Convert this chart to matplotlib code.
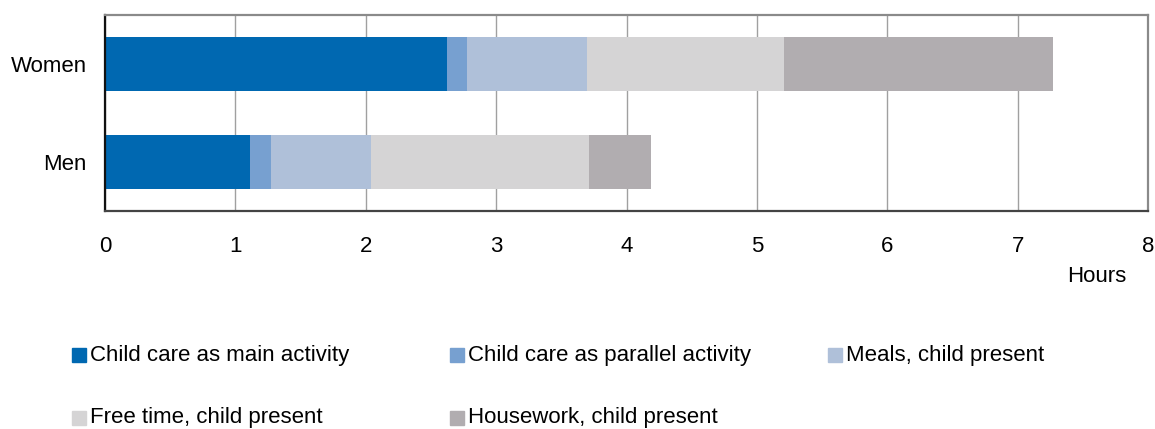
import matplotlib.pyplot as plt
import numpy as np
from matplotlib.patches import Rectangle

plt.rcParams["font.family"] = ["Liberation Sans", "DejaVu Sans"]

groups = ["Women", "Men"]
labels = ["Child care as main activity", "Child care as parallel activity",
          "Meals, child present", "Free time, child present",
          "Housework, child present"]
colors = ["#0068b1", "#77a0d0", "#afc0d9", "#d5d4d5", "#b1adb0"]
# hours per segment, rows = women, men
main_care = [2.62, 1.11]
parallel_care = [0.16, 0.16]
meals = [0.92, 0.77]
free_time = [1.51, 1.67]
housework = [2.06, 0.48]
series = [main_care, parallel_care, meals, free_time, housework]

fig = plt.figure(figsize=(11.55, 4.29), dpi=100)
ax = fig.add_axes([105/1155, 1-211/429, (1148-105)/1155, (211-15)/429])

y = np.arange(len(groups))
left = np.zeros(len(groups))
for vals, c, lab in zip(series, colors, labels):
    ax.barh(y, vals, left=left, height=0.55, color=c, label=lab, zorder=2)
    left += np.array(vals)

ax.set_xlim(0, 8)
ax.set_ylim(1.5, -0.5)
ax.set_yticks(y)
ax.set_yticklabels(groups)
ax.set_xticks(range(0, 9))
ax.tick_params(axis="both", length=0, labelsize=16)
ax.tick_params(axis="x", pad=18)
ax.tick_params(axis="y", pad=13)
ax.xaxis.grid(True, color="#a0a0a0", lw=1, zorder=0)
ax.set_axisbelow(True)

ax.spines["left"].set_color("#111111")
ax.spines["bottom"].set_color("#444444")
ax.spines["top"].set_color("#8a8a8a")
ax.spines["right"].set_color("#8a8a8a")
for s in ax.spines.values():
    s.set_linewidth(1.6)

fig.text(1097/1155, 1-277/429, "Hours", fontsize=16, ha="center", va="center")

# legend, drawn by hand in a 3-column grid
col_x = [72, 450, 828]
row_y = [355, 418]
for i, (lab, c) in enumerate(zip(labels, colors)):
    cx = col_x[i % 3]
    cy = row_y[i // 3]
    fig.add_artist(Rectangle(((cx)/1155, 1-(cy+7)/429), 14/1155, 14/429,
                             transform=fig.transFigure, color=c))
    fig.text((cx+18)/1155, 1-cy/429, lab, fontsize=16, ha="left", va="center")

plt.savefig("out.png", dpi=100)
